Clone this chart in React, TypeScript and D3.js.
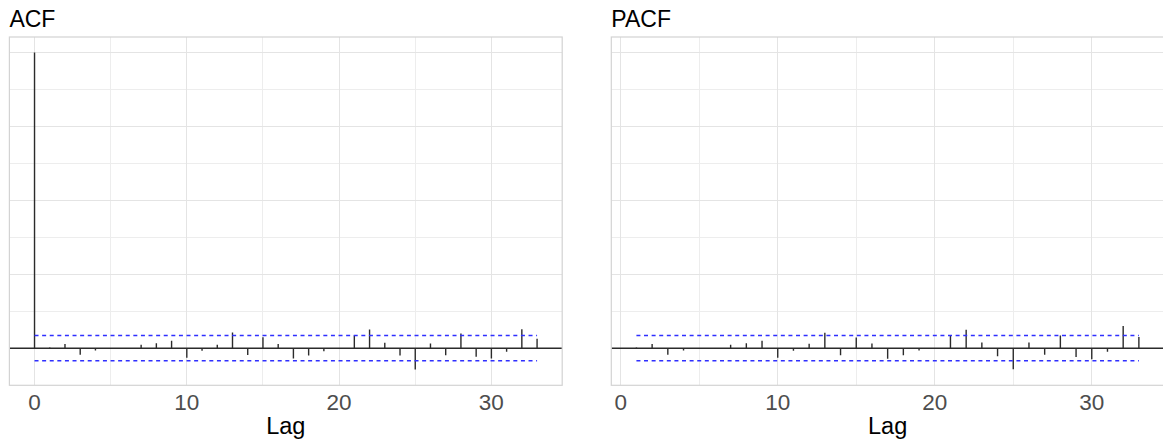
import React from "react";
import * as d3 from "d3";

// Autocorrelation (lags 0..33) and partial autocorrelation (lags 1..33)
const acfLags: number[] = d3.range(0, 34);
const acfValues: number[] = [
  1, 0.002, 0.014, -0.022, -0.008, 0.001, -0.001, 0.012, 0.017, 0.025,
  -0.032, -0.009, 0.012, 0.053, -0.023, 0.037, 0.014, -0.035, -0.025, -0.01,
  0.001, 0.043, 0.063, 0.018, -0.025, -0.072, 0.016, -0.024, 0.05, -0.029,
  -0.035, -0.012, 0.064, 0.032,
];
const pacfLags: number[] = d3.range(1, 34);
const pacfValues: number[] = [
  0.002, 0.014, -0.022, -0.008, 0.001, -0.001, 0.012, 0.017, 0.025, -0.032,
  -0.009, 0.015, 0.052, -0.024, 0.036, 0.016, -0.036, -0.024, -0.008, 0.001,
  0.042, 0.062, 0.019, -0.027, -0.071, 0.019, -0.022, 0.043, -0.03, -0.037,
  -0.012, 0.075, 0.038,
];
const ciBound = 0.0427;
const xTicks: number[] = [0, 10, 20, 30];
const xMinor: number[] = [5, 15, 25, 35];
const yMajor: number[] = [0, 0.25, 0.5, 0.75, 1];
const yMinor: number[] = [0.125, 0.375, 0.625, 0.875];

const W = 1163;
const H = 444;
const TOP = 37;
const BOTTOM = 385.3;
const FONT = "'Liberation Sans', Arial, Helvetica, sans-serif";

// snap a coordinate to a pixel centre so thin lines stay crisp
const snap = (v: number) => Math.round(v - 0.5) + 0.5;

interface PanelProps {
  title: string;
  lags: number[];
  values: number[];
  left: number;
  right: number;
  xDomain: [number, number];
}

function Panel({ title, lags, values, left, right, xDomain }: PanelProps) {
  const x = d3.scaleLinear().domain(xDomain).range([left, right]);
  const y = d3.scaleLinear().domain([-0.1255, 1.0525]).range([BOTTOM, TOP]);
  const clipId = `clip-${title}`;
  const lagMin = d3.min(lags) as number;
  const lagMax = d3.max(lags) as number;
  const y0 = y(0);
  return (
    <g>
      <defs>
        <clipPath id={clipId}>
          <rect x={left} y={TOP} width={right - left} height={BOTTOM - TOP} />
        </clipPath>
      </defs>
      <text x={left} y={26.7} fontSize={23} fontFamily={FONT} fill="#000">
        {title}
      </text>
      <g clipPath={`url(#${clipId})`}>
        {yMinor.map((v) => (
          <line key={`ym${v}`} x1={left} x2={right} y1={snap(y(v))} y2={snap(y(v))} stroke="#EDEDED" strokeWidth={1} />
        ))}
        {xMinor.map((v) => (
          <line key={`xm${v}`} x1={snap(x(v))} x2={snap(x(v))} y1={TOP} y2={BOTTOM} stroke="#EDEDED" strokeWidth={1} />
        ))}
        {yMajor.map((v) => (
          <line key={`yM${v}`} x1={left} x2={right} y1={snap(y(v))} y2={snap(y(v))} stroke="#E4E4E4" strokeWidth={1} />
        ))}
        {xTicks.map((v) => (
          <line key={`xM${v}`} x1={snap(x(v))} x2={snap(x(v))} y1={TOP} y2={BOTTOM} stroke="#E4E4E4" strokeWidth={1} />
        ))}
        <line x1={left} x2={right} y1={y0} y2={y0} stroke="#2B2B2B" strokeWidth={1.5} />
        {lags.map((lag, i) => (
          <line
            key={`b${lag}`}
            x1={x(lag)}
            x2={x(lag)}
            y1={y0}
            y2={y(values[i])}
            stroke="#2B2B2B"
            strokeWidth={1.4}
          />
        ))}
        {[ciBound, -ciBound].map((c) => (
          <line
            key={`ci${c}`}
            x1={x(lagMin)}
            x2={x(lagMax)}
            y1={y(c)}
            y2={y(c)}
            stroke="#2F2FFF"
            strokeWidth={1.5}
            strokeDasharray="4 3.6"
          />
        ))}
      </g>
      <rect
        x={left}
        y={TOP}
        width={right - left}
        height={BOTTOM - TOP}
        fill="none"
        stroke="#D3D3D3"
        strokeWidth={1.2}
      />
      {xTicks.map((v) => (
        <text
          key={`t${v}`}
          x={x(v)}
          y={409.5}
          textAnchor="middle"
          fontSize={22.5}
          fontFamily={FONT}
          fill="#4D4D4D"
        >
          {v}
        </text>
      ))}
      <text
        x={(left + right) / 2}
        y={433.5}
        textAnchor="middle"
        fontSize={23.5}
        fontFamily={FONT}
        fill="#000"
      >
        Lag
      </text>
    </g>
  );
}

export default function App() {
  return (
    <svg
      width={W}
      height={H}
      style={{ position: "absolute", left: 0, top: 0, background: "#fff" }}
    >
      <rect width={W} height={H} fill="#fff" />
      <Panel title="ACF" lags={acfLags} values={acfValues} left={9.4} right={562.2} xDomain={[-1.65, 34.65]} />
      <Panel title="PACF" lags={pacfLags} values={pacfValues} left={611.3} right={1164} xDomain={[-0.6, 34.6]} />
    </svg>
  );
}
